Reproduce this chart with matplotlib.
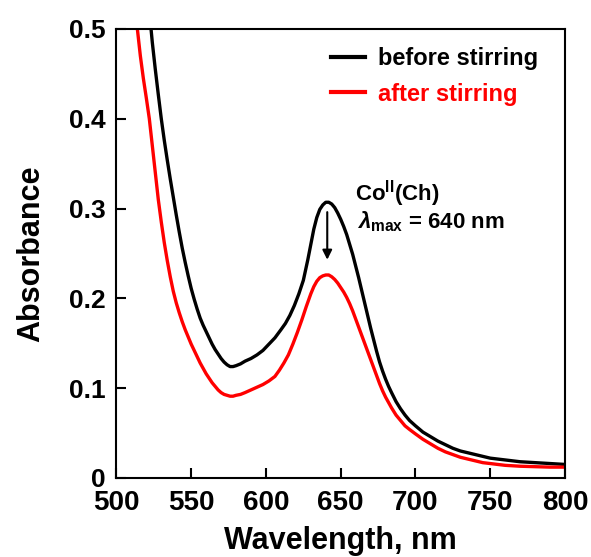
import matplotlib
matplotlib.use("Agg")
import matplotlib.pyplot as plt

plt.rcParams['font.family'] = ['Liberation Sans', 'DejaVu Sans']
plt.rcParams['font.weight'] = 'bold'
plt.rcParams['mathtext.fontset'] = 'custom'
plt.rcParams['mathtext.rm'] = 'Liberation Sans:bold'
plt.rcParams['mathtext.bf'] = 'Liberation Sans:bold'
plt.rcParams['mathtext.it'] = 'Liberation Sans:bold:italic'

# before stirring (black)
wl_before = [520, 522, 524, 526, 528, 530, 532, 534, 536, 538, 540, 542, 544, 546,
             548, 550, 552, 554, 556, 558, 560, 562, 564, 566, 568, 570, 572, 574,
             576, 578, 580, 583, 586, 590, 594, 598, 602, 606, 610, 613, 616, 619,
             622, 625, 628, 630, 632, 634, 636, 638, 640, 642, 644, 646, 648, 650,
             652, 654, 656, 658, 660, 662, 664, 666, 668, 670, 672, 674, 676, 678,
             680, 682, 684, 687, 690, 693, 696, 700, 705, 710, 715, 720, 725, 730,
             735, 740, 745, 750, 760, 770, 780, 790, 800]
abs_before = [0.56, 0.52, 0.485, 0.455, 0.427, 0.40, 0.376, 0.354, 0.333, 0.313,
              0.293, 0.274, 0.256, 0.240, 0.225, 0.211, 0.199, 0.188, 0.178, 0.170,
              0.163, 0.156, 0.149, 0.143, 0.138, 0.133, 0.129, 0.126, 0.124, 0.124,
              0.125, 0.127, 0.130, 0.133, 0.137, 0.142, 0.149, 0.156, 0.165, 0.172,
              0.181, 0.192, 0.205, 0.220, 0.243, 0.260, 0.277, 0.290, 0.299, 0.304,
              0.307, 0.307, 0.305, 0.301, 0.295, 0.288, 0.280, 0.271, 0.260, 0.249,
              0.236, 0.223, 0.209, 0.195, 0.181, 0.167, 0.154, 0.141, 0.129, 0.119,
              0.110, 0.102, 0.095, 0.085, 0.077, 0.070, 0.064, 0.058, 0.051, 0.046,
              0.041, 0.037, 0.033, 0.030, 0.028, 0.026, 0.024, 0.022, 0.020, 0.018,
              0.017, 0.016, 0.015]

# after stirring (red)
wl_after = [512, 514, 516, 518, 520, 522, 524, 526, 528, 530, 532, 534, 536, 538,
            540, 542, 544, 546, 548, 550, 552, 554, 556, 558, 560, 562, 564, 566,
            568, 570, 572, 574, 576, 578, 580, 583, 586, 590, 594, 598, 602, 606,
            609, 612, 615, 618, 621, 624, 627, 630, 632, 634, 636, 638, 640, 642,
            644, 646, 648, 650, 652, 654, 656, 658, 660, 662, 664, 666, 668, 670,
            672, 674, 676, 678, 680, 682, 684, 687, 690, 693, 696, 700, 705, 710,
            715, 720, 725, 730, 735, 740, 745, 750, 760, 770, 780, 790, 800]
abs_after = [0.53, 0.50, 0.47, 0.445, 0.423, 0.40, 0.37, 0.34, 0.31, 0.285, 0.262,
             0.242, 0.224, 0.208, 0.195, 0.184, 0.174, 0.165, 0.157, 0.149, 0.142,
             0.135, 0.128, 0.122, 0.116, 0.111, 0.106, 0.102, 0.098, 0.095, 0.093,
             0.092, 0.091, 0.091, 0.092, 0.093, 0.095, 0.098, 0.101, 0.104, 0.108,
             0.113, 0.120, 0.128, 0.137, 0.149, 0.162, 0.176, 0.191, 0.205, 0.213,
             0.219, 0.223, 0.225, 0.226, 0.226, 0.224, 0.221, 0.217, 0.212, 0.207,
             0.201, 0.194, 0.186, 0.177, 0.168, 0.159, 0.150, 0.141, 0.132, 0.123,
             0.114, 0.105, 0.097, 0.090, 0.084, 0.078, 0.070, 0.064, 0.058, 0.054,
             0.049, 0.043, 0.038, 0.033, 0.029, 0.026, 0.023, 0.021, 0.019, 0.017,
             0.016, 0.014, 0.013, 0.0125, 0.012, 0.012]

x_ticks = [500, 550, 600, 650, 700, 750, 800]
y_ticks = [0, 0.1, 0.2, 0.3, 0.4, 0.5]
y_ticklabels = ['0', '0.1', '0.2', '0.3', '0.4', '0.5']

fig = plt.figure(figsize=(5.91, 5.57), dpi=100)
ax = fig.add_axes([0.197, 0.142, 0.759, 0.806])

ax.plot(wl_before, abs_before, color='black', lw=2.4, label='before stirring',
        solid_joinstyle='round')
ax.plot(wl_after, abs_after, color='#ff0000', lw=2.4, label='after stirring',
        solid_joinstyle='round')

ax.set_xlim(500, 800)
ax.set_ylim(0, 0.5)
ax.set_xticks(x_ticks)
ax.set_yticks(y_ticks)
ax.set_yticklabels(y_ticklabels)
ax.tick_params(direction='in', length=7, width=1.5)
ax.tick_params(axis='x', labelsize=20, pad=9)
ax.tick_params(axis='y', labelsize=19, pad=8)
for s in ax.spines.values():
    s.set_linewidth(1.5)

ax.set_xlabel('Wavelength, nm', fontsize=22, fontweight='bold', labelpad=7)
ax.set_ylabel('Absorbance', fontsize=22, fontweight='bold', labelpad=16)

leg = ax.legend(loc='upper left', bbox_to_anchor=(0.478, 0.96), frameon=False,
                handlelength=1.44, handletextpad=0.55,
                borderpad=0, borderaxespad=0, labelspacing=0.54,
                labelcolor='linecolor', prop={'weight': 'bold', 'size': 17})
for h in leg.legend_handles:
    h.set_linewidth(3)

ax.annotate('', xy=(641, 0.243), xytext=(641, 0.296),
            arrowprops=dict(arrowstyle='-|>', color='black', lw=1.5,
                            mutation_scale=14, shrinkA=0, shrinkB=0))
ax.text(659.5, 0.317, r'Co$^{\mathrm{II}}$(Ch)', fontsize=16, fontweight='bold',
        va='center', ha='left')
ax.text(661, 0.285, r'$\mathit{\lambda}_{\mathrm{max}}$ = 640 nm', fontsize=16,
        fontweight='bold', va='center', ha='left')

fig.savefig('out.png', dpi=100)
